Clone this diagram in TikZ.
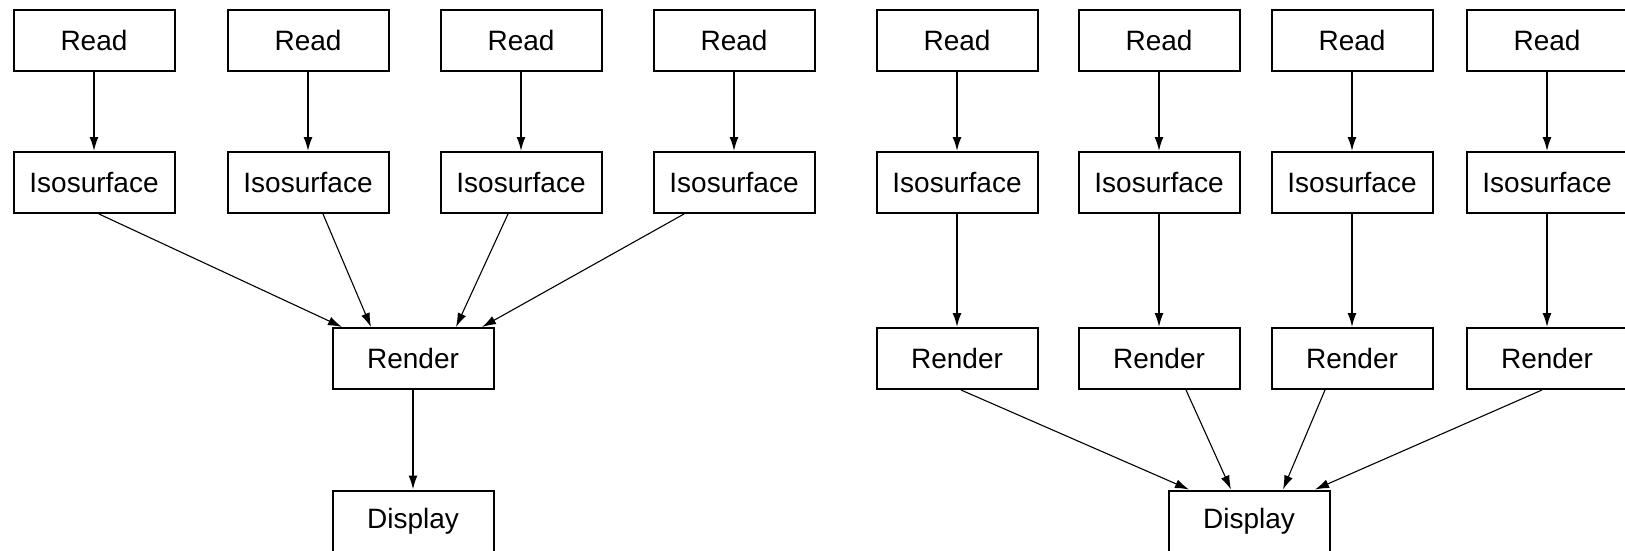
\documentclass[tikz,border=0pt]{standalone}
\usepackage{fontspec}
\setmainfont{Liberation Sans}
\usetikzlibrary{arrows.meta}

\begin{document}
\begin{tikzpicture}[x=1pt,y=-1pt,
	box/.style={draw,line width=2pt,minimum width=161pt,minimum height=61pt,inner sep=0pt,font=\fontsize{28}{34}\selectfont},
	flow/.style={line width=1.6pt,-{Latex[length=14pt,width=9pt]}},
	merge/.style={line width=1.1pt,-{Latex[length=14pt,width=9pt]}}]
	\useasboundingbox (0,0) rectangle (1625,550);
	% left: four pipes into one render
	\foreach \n/\x in {1/94,2/308,3/521,4/734}{
		\node[box] (lread\n) at (\x,40) {Read};
		\node[box] (liso\n) at (\x,182.5) {Isosurface};
		\draw[flow] (lread\n) -- (liso\n);
	}
	\node[box] (lrender) at (413,358.5) {Render};
	\node[box] (ldisplay) at (413,521) {Display};
	\foreach \n/\a/\b in {1/5/-71,2/15/-42,3/-13/43,4/-50/69}
		\draw[merge] ([xshift=\a pt]liso\n.south) -- ([xshift=\b pt]lrender.north);
	\draw[flow] (lrender) -- (ldisplay);
	% right: one render per pipe
	\foreach \n/\x in {1/957,2/1159,3/1352,4/1547}{
		\node[box] (rread\n) at (\x,40) {Read};
		\node[box] (riso\n) at (\x,182.5) {Isosurface};
		\node[box] (rrender\n) at (\x,358.5) {Render};
		\draw[flow] (rread\n) -- (riso\n);
		\draw[flow] (riso\n) -- (rrender\n);
	}
	\node[box] (rdisplay) at (1249,521) {Display};
	\foreach \n/\a/\b in {1/4/-60,2/27/-18,3/-27/34,4/-5/66}
		\draw[merge] ([xshift=\a pt]rrender\n.south) -- ([xshift=\b pt]rdisplay.north);
\end{tikzpicture}
\end{document}
